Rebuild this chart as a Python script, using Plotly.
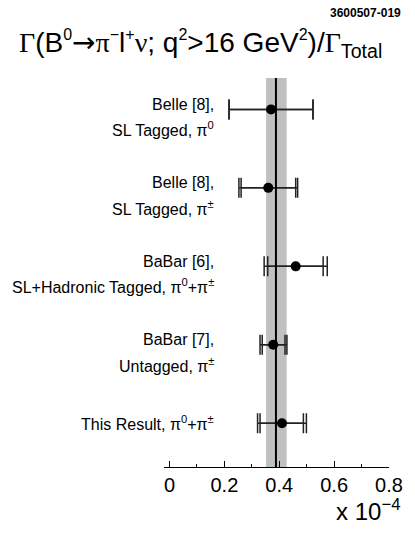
import plotly.graph_objects as go

# ----- data (units of 10^-4) -----
labels_line1 = ["Belle [8],", "Belle [8],", "BaBar [6],", "BaBar [7],", "This Result, π<sup>0</sup>+π<sup>±</sup>"]
labels_line2 = ["SL Tagged, π<sup>0</sup>", "SL Tagged, π<sup>±</sup>",
                "SL+Hadronic Tagged, π<sup>0</sup>+π<sup>±</sup>", "Untagged, π<sup>±</sup>", ""]
rows = [5, 4, 3, 2, 1]
central = [0.370, 0.360, 0.460, 0.378, 0.410]
stat_lo = [0.217, 0.261, 0.358, 0.338, 0.330]
stat_hi = [0.523, 0.460, 0.560, 0.421, 0.488]
tot_lo = [0.217, 0.253, 0.345, 0.330, 0.321]
tot_hi = [0.523, 0.467, 0.575, 0.428, 0.499]
avg_value = 0.388
avg_lo, avg_hi = 0.352, 0.427

FONT = "Liberation Sans, Arial, Helvetica, sans-serif"
ERR_COLOR = "#222222"


def serif(s):
    return f"<span style='font-family:Liberation Serif'>{s}</span>"


def small_sup(s):
    return f"<sup><span style='font-size:16px'>{s}</span></sup>"


fig = go.Figure()

# average band and line
fig.add_shape(type="rect", xref="x", yref="paper", x0=avg_lo, x1=avg_hi, y0=0, y1=1,
              fillcolor="#c0c0c0", line_width=0, layer="below")
fig.add_shape(type="line", xref="x", yref="paper", x0=avg_value, x1=avg_value, y0=0, y1=1,
              line=dict(color="black", width=2))

# total errors (outer caps)
fig.add_trace(go.Scatter(
    x=central, y=rows, mode="markers", marker=dict(size=1, color="rgba(0,0,0,0)"),
    error_x=dict(type="data", symmetric=False,
                 array=[h - c for h, c in zip(tot_hi, central)],
                 arrayminus=[c - l for l, c in zip(tot_lo, central)],
                 color=ERR_COLOR, thickness=1.5, width=10),
    hoverinfo="skip", showlegend=False,
))
# stat errors (inner caps)
fig.add_trace(go.Scatter(
    x=central, y=rows, mode="markers",
    marker=dict(size=10, color="black"),
    error_x=dict(type="data", symmetric=False,
                 array=[h - c for h, c in zip(stat_hi, central)],
                 arrayminus=[c - l for l, c in zip(stat_lo, central)],
                 color=ERR_COLOR, thickness=1.5, width=10),
    showlegend=False,
))

# labels to the left of each measurement
for r, l1, l2 in zip(rows, labels_line1, labels_line2):
    if l2:
        fig.add_annotation(x=0.169, y=r, text=l1, showarrow=False, xanchor="right",
                           yshift=5, font=dict(size=16, family=FONT, color="black"))
        fig.add_annotation(x=0.169, y=r, text=l2, showarrow=False, xanchor="right",
                           yshift=-20, font=dict(size=16, family=FONT, color="black"))
    else:
        fig.add_annotation(x=0.169, y=r, text=l1, showarrow=False, xanchor="right",
                           font=dict(size=16, family=FONT, color="black"))

# title, figure id and exponent
title = (serif("Γ") + "(B" + small_sup("0") + "<span style='font-family:DejaVu Sans'>→</span>"
         + serif("π") + small_sup("−") + "l" + small_sup("+") + serif("ν") + "; q" + small_sup("2")
         + "&gt;16 GeV" + small_sup("2") + ")/" + serif("Γ") + "<sub>Total</sub>")
fig.add_annotation(xref="paper", yref="paper", x=-0.652, y=1.0, yshift=34,
                   text=title, showarrow=False, xanchor="left", yanchor="middle",
                   font=dict(size=28, family=FONT, color="black"))
fig.add_annotation(xref="paper", yref="paper", x=1.062, y=1.0, yshift=65,
                   text="<b>3600507-019</b>", showarrow=False, xanchor="right", yanchor="middle",
                   font=dict(size=12, family=FONT, color="black"))
fig.add_annotation(xref="paper", yref="paper", x=1.062, y=0, yshift=-43,
                   text="x 10<sup>−4</sup>", showarrow=False, xanchor="right", yanchor="middle",
                   font=dict(size=24, family=FONT, color="black"))

fig.update_xaxes(range=[-0.02, 0.8], showline=True, linecolor="black", linewidth=1,
                 ticks="inside", ticklen=6, tickcolor="black", tickwidth=1,
                 tickvals=[0, 0.2, 0.4, 0.6, 0.8], ticktext=["0", "0.2", "0.4", "0.6", "0.8"],
                 minor=dict(ticks="inside", ticklen=3, tickcolor="black", dtick=0.1, tick0=0),
                 showgrid=False, zeroline=False,
                 tickfont=dict(size=20, family=FONT, color="black"))
fig.update_yaxes(range=[0.443, 5.40], visible=False, showgrid=False, zeroline=False)

fig.update_layout(
    width=415, height=537,
    margin=dict(l=164, r=26, t=78, b=70),
    plot_bgcolor="white", paper_bgcolor="white",
    showlegend=False,
)

# drop the default body margin so the figure fills the window exactly
fig.write_html("out.html", config={"displayModeBar": False},
               post_script="document.body.style.margin='0px';")
